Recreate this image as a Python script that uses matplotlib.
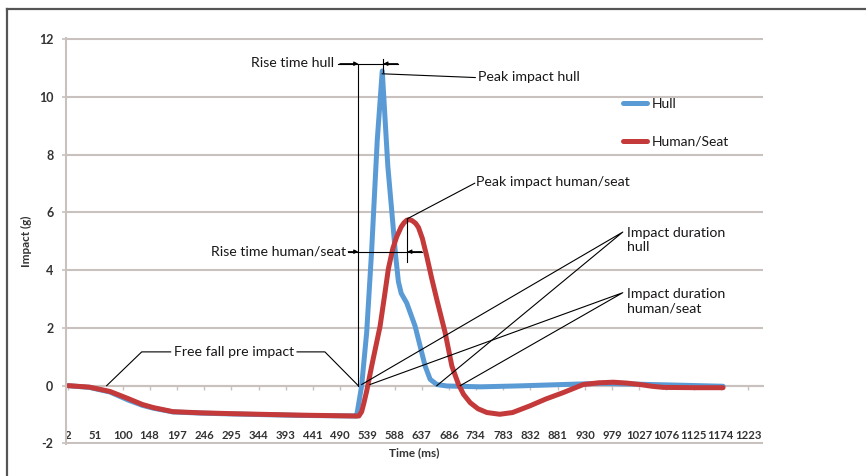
import numpy as np
import matplotlib.pyplot as plt
from matplotlib.lines import Line2D

plt.rcParams['font.family'] = ['Lato', 'DejaVu Sans']

# time (ms) / impact (g)
hull_t = [2, 40, 77, 110, 135, 155, 190, 240, 298, 418, 517, 520, 529, 538, 547, 557, 566,
          576, 586, 590, 595, 600, 610, 625, 634, 643, 652, 664, 682, 742, 807, 890, 957,
          1029, 1136, 1178]
hull_g = [0, -0.06, -0.22, -0.5, -0.68, -0.78, -0.91, -0.95, -0.98, -1.03, -1.05, -1.05, 0,
          1.84, 4.7, 8.5, 10.9, 7.6, 5.4, 4.5, 3.6, 3.2, 2.86, 2.06, 1.37, 0.68, 0.22, 0.04,
          -0.01, -0.04, -0.01, 0.04, 0.08, 0.05, 0.0, -0.02]

seat_t = [2, 40, 77, 110, 135, 155, 190, 240, 298, 418, 517, 524, 529, 533, 538, 547, 562,
          570, 577, 585, 592, 600, 605, 610, 615, 620, 626, 631, 638, 646, 655, 664, 679, 691,
          703, 712, 724, 738, 754, 777, 800, 831, 860, 891, 927, 955, 981, 1005, 1029, 1050,
          1071, 1131, 1178]
seat_g = [0, -0.05, -0.2, -0.45, -0.65, -0.76, -0.9, -0.94, -0.97, -1.02, -1.05, -1.05, -0.9,
          -0.6, -0.19, 0.68, 2.05, 3.1, 4.05, 4.75, 5.16, 5.5, 5.64, 5.73, 5.75, 5.71, 5.62,
          5.48, 5.1, 4.47, 3.7, 2.98, 1.83, 0.68, 0.04, -0.3, -0.59, -0.8, -0.93, -0.99,
          -0.93, -0.7, -0.46, -0.24, 0.04, 0.1, 0.12, 0.09, 0.04, -0.02, -0.06, -0.07, -0.07]

x_ticks = [2, 51, 100, 148, 197, 246, 295, 344, 393, 441, 490, 539, 588, 637, 686, 734, 783,
           832, 881, 930, 979, 1027, 1076, 1125, 1174, 1223]
y_ticks = [-2, 0, 2, 4, 6, 8, 10, 12]

grid_col = '#c9c1bd'
txt_col = '#1a1718'

fig = plt.figure(figsize=(8.66, 4.76), dpi=100)
ax = fig.add_axes([0.0762, 0.0666, 0.805, 0.853])

ax.set_xlim(-2, 1250)
ax.set_ylim(-2.03, 12.03)
ax.set_yticks(y_ticks)
ax.set_yticklabels([str(v) for v in y_ticks])
ax.grid(axis='y', color=grid_col, lw=1.5)
ax.set_axisbelow(True)
for s in ['top', 'right', 'bottom']:
    ax.spines[s].set_visible(False)
ax.spines['left'].set_color(grid_col)
ax.spines['left'].set_linewidth(1.5)
ax.tick_params(axis='y', colors=grid_col, length=3, width=1.2, pad=6,
               labelcolor='#333333', labelsize=9)
for lab in ax.get_yticklabels():
    lab.set_fontweight('bold')

ax.set_xticks(x_ticks)
ax.set_xticklabels([str(v) for v in x_ticks], fontsize=8.2, fontweight='bold', color='#333333')
ax.tick_params(axis='x', length=0, pad=-2.5)
for lab in ax.get_xticklabels():
    lab.set_va('bottom')

# horizontal axis line with its ticks at y = 0
sec = ax.secondary_xaxis(0, transform=ax.transData)
sec.set_xticks(x_ticks)
sec.tick_params(axis='x', direction='out', length=3, width=1, colors=grid_col, labelbottom=False)
sec.spines['bottom'].set_color(grid_col)
sec.spines['bottom'].set_linewidth(1.5)

ax.set_ylabel('Impact (g)', fontsize=8.5, fontweight='bold', color='#333333', labelpad=5)
ax.set_xlabel('Time (ms)', fontsize=8.5, fontweight='bold', color='#333333', labelpad=2)

ax.plot(hull_t, hull_g, color='#5b9bd5', lw=3.6, label='Hull', solid_joinstyle='round',
        solid_capstyle='round')
ax.plot(seat_t, seat_g, color='#c43a3a', lw=3.6, label='Human/Seat', solid_joinstyle='round',
        solid_capstyle='round')

leg = ax.legend(loc='upper left', bbox_to_anchor=(0.7194, 0.794), bbox_transform=fig.transFigure,
                frameon=False, fontsize=10, handlelength=1.7, handletextpad=0.4,
                labelspacing=1.85, borderpad=0, borderaxespad=0)
for t in leg.get_texts():
    t.set_color(txt_col)

# annotations
lk = dict(color='k', lw=0.8)
fs = 10.2
arr = dict(arrowstyle='-|>', lw=0.8, color='k', mutation_scale=6, shrinkA=0, shrinkB=0)

# rise time hull
ax.plot([523, 523], [0, 11.15], **lk)
ax.plot([486, 594], [11.15, 11.15], **lk)
ax.plot([568, 568], [10.85, 11.3], **lk)
ax.annotate('', xy=(523, 11.15), xytext=(490, 11.15), arrowprops=arr)
ax.annotate('', xy=(568, 11.15), xytext=(594, 11.15), arrowprops=arr)
ax.text(480, 11.17, 'Rise time hull', ha='right', va='center', fontsize=fs, color=txt_col)

# peak impact hull
ax.plot([566, 733], [10.8, 10.67], **lk)
ax.text(738, 10.7, 'Peak impact hull', ha='left', va='center', fontsize=fs, color=txt_col)

# rise time human/seat
ax.plot([505, 637], [4.64, 4.64], **lk)
ax.plot([611, 611], [4.27, 5.78], **lk)
ax.annotate('', xy=(523, 4.64), xytext=(505, 4.64), arrowprops=arr)
ax.annotate('', xy=(611, 4.64), xytext=(637, 4.64), arrowprops=arr)
ax.text(500, 4.66, 'Rise time human/seat', ha='right', va='center', fontsize=fs, color=txt_col)

# peak impact human/seat
ax.plot([611, 732], [5.78, 7.01], **lk)
ax.text(734, 7.05, 'Peak impact human/seat', ha='left', va='center', fontsize=fs, color=txt_col)

# impact duration
ax.plot([529, 998, 664], [0.04, 5.32, 0.0], **lk)
ax.plot([544, 998, 706], [0.04, 3.22, 0.0], **lk)
ax.text(1005, 5.05, 'Impact duration\nhull', ha='left', va='center', fontsize=fs,
        color=txt_col, linespacing=1.2)
ax.text(1005, 2.93, 'Impact duration\nhuman/seat', ha='left', va='center', fontsize=fs,
        color=txt_col, linespacing=1.2)

# free fall pre impact
ax.plot([71, 134, 186], [0, 1.17, 1.17], **lk)
ax.plot([413, 463, 523], [1.17, 1.17, 0], **lk)
ax.text(299, 1.17, 'Free fall pre impact', ha='center', va='center', fontsize=fs, color=txt_col)

# page frame (top and left edge)
fig.add_artist(Line2D([7 / 866, 7 / 866], [0, 1 - 9 / 476], color='#555555', lw=1.6,
                      transform=fig.transFigure))
fig.add_artist(Line2D([7 / 866, 1], [1 - 9 / 476, 1 - 9 / 476], color='#555555', lw=1.6,
                      transform=fig.transFigure))

fig.savefig('out.png', dpi=100)
